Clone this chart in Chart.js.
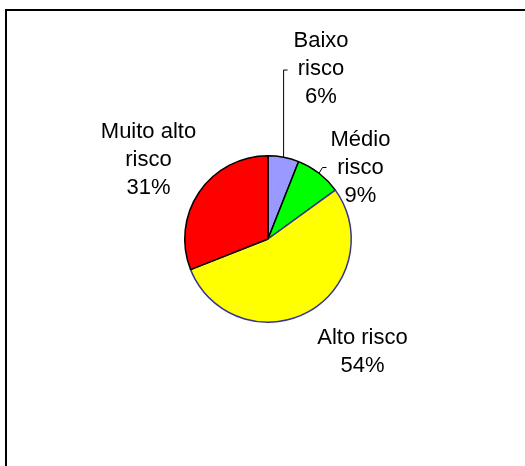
<!DOCTYPE html>
<html>
<head>
<meta charset="utf-8">
<script src="https://cdn.jsdelivr.net/npm/chart.js@4"></script>
<style>
  html, body { margin: 0; padding: 0; background: #fff; }
  #wrap { position: relative; width: 525px; height: 466px; }
</style>
</head>
<body>
<div id="wrap"><canvas id="riskChart" width="525" height="466"></canvas></div>
<script>
const categories = ["Baixo risco", "Médio risco", "Alto risco", "Muito alto risco"];
const shares = [6, 9, 54, 31];

const fills = ["#9999ff", "#00ff00", "#ffff00", "#ff0000"];
const edges = ["#000000", "#000000", "#333399", "#000000"];

// label placement relative to the pie centre: text centre x, first baseline y,
// wrap width and optional leader elbow (dx null = straight up from the slice)
const labelLayout = [
  { dx: 53, dy: -192, wrap: 60, elbow: { dx: null, dy: -169 } },
  { dx: 92.5, dy: -93, wrap: 60, elbow: { dx: 54.5, dy: -71.5 } },
  { dx: 94.5, dy: 105, wrap: 120, elbow: null },
  { dx: -119.5, dy: -101, wrap: 120, elbow: null }
];

function wrapWords(ctx, text, maxWidth) {
  const words = text.split(" ");
  const lines = [];
  let line = "";
  words.forEach(w => {
    const test = line ? line + " " + w : w;
    if (line && ctx.measureText(test).width > maxWidth) {
      lines.push(line);
      line = w;
    } else {
      line = test;
    }
  });
  if (line) lines.push(line);
  return lines;
}

const frame = {
  id: "frame",
  beforeDraw(chart) {
    const ctx = chart.ctx;
    ctx.save();
    ctx.strokeStyle = "#000";
    ctx.lineWidth = 2;
    ctx.beginPath();
    ctx.moveTo(6, 466);
    ctx.lineTo(6, 10);
    ctx.lineTo(525, 10);
    ctx.stroke();
    ctx.restore();
  }
};

const sliceLabels = {
  id: "sliceLabels",
  afterDraw(chart) {
    const ctx = chart.ctx;
    const arcs = chart.getDatasetMeta(0).data;
    ctx.save();
    ctx.font = "22px 'Liberation Sans', Arial, sans-serif";
    ctx.fillStyle = "#000";
    ctx.textAlign = "center";
    ctx.textBaseline = "alphabetic";
    arcs.forEach((arc, i) => {
      const p = arc.getProps(["x", "y", "startAngle", "endAngle", "outerRadius"], true);
      const lay = labelLayout[i];
      const lines = wrapWords(ctx, categories[i], lay.wrap);
      lines.push(shares[i] + "%");
      lines.forEach((t, k) => {
        ctx.fillText(t, p.x + lay.dx, p.y + lay.dy + k * 28);
      });
      if (lay.elbow) {
        const mid = (p.startAngle + p.endAngle) / 2;
        const sx = p.x + Math.cos(mid) * p.outerRadius;
        const sy = p.y + Math.sin(mid) * p.outerRadius;
        const ex = lay.elbow.dx === null ? sx : p.x + lay.elbow.dx;
        const ey = p.y + lay.elbow.dy;
        ctx.strokeStyle = "#000";
        ctx.lineWidth = 1;
        ctx.beginPath();
        ctx.moveTo(sx, sy);
        ctx.lineTo(ex, ey);
        ctx.lineTo(ex + 4, ey);
        ctx.stroke();
      }
    });
    ctx.restore();
  }
};

new Chart(document.getElementById("riskChart"), {
  type: "pie",
  data: {
    labels: categories,
    datasets: [{
      data: shares,
      backgroundColor: fills,
      borderColor: edges,
      borderWidth: 1.5
    }]
  },
  options: {
    responsive: false,
    animation: false,
    layout: {
      padding: { left: 184, right: 173, top: 155, bottom: 143 }
    },
    plugins: {
      legend: { display: false },
      tooltip: { enabled: false }
    }
  },
  plugins: [frame, sliceLabels]
});
</script>
</body>
</html>
